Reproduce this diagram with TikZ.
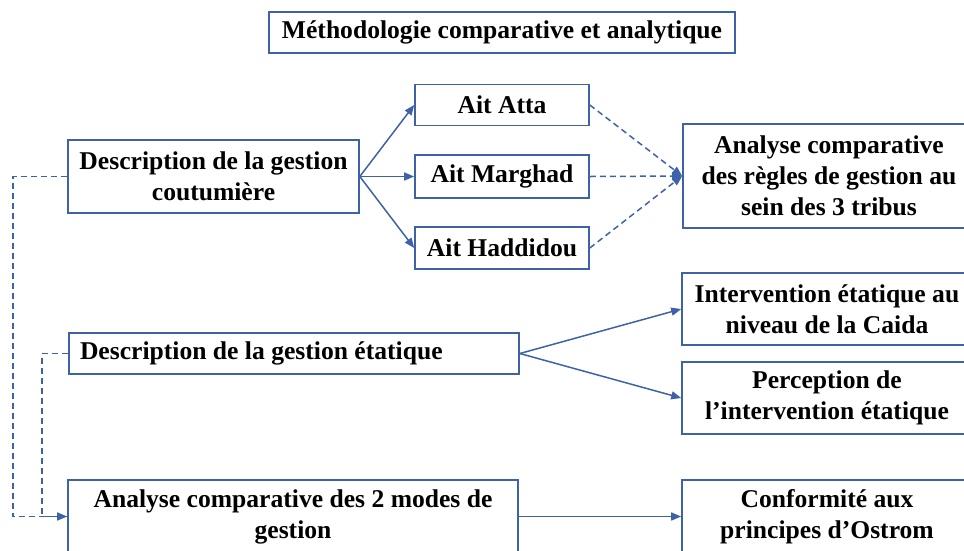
\documentclass[tikz,border=0pt]{standalone}
\usepackage{fontspec}
\setmainfont{Liberation Serif}
\usetikzlibrary{arrows.meta, calc}
\definecolor{boxblue}{RGB}{62,98,168}

\begin{document}
\begin{tikzpicture}[
    x=1pt, y=-1pt,
    stepbox/.style={rectangle, draw=boxblue, line width=1.6pt, fill=white, align=center,
      inner sep=1pt, font=\fontsize{25.6}{31}\selectfont\bfseries},
    arrow/.style={-{Triangle[length=10pt, width=8pt]}, draw=boxblue, line width=1.5pt},
    dasharrow/.style={arrow, dash pattern=on 6pt off 4pt},
    dashline/.style={draw=boxblue, line width=1.5pt, dash pattern=on 6pt off 4pt}
  ]
  % page frame, the reference is cut at the right and bottom
  \path[use as bounding box] (0,0) rectangle (964,550);
  \clip (0,0) rectangle (964,550);

  \node[stepbox, minimum width=466, minimum height=41] (title) at (502, 32.5)
    {Méthodologie comparative et analytique};

  % customary management
  \node[stepbox, minimum width=291, minimum height=73] (coutu) at (213.5, 176.5)
    {Description de la gestion\\coutumière};
  \node[stepbox, minimum width=174, minimum height=41] (atta) at (502, 105) {Ait Atta};
  \node[stepbox, minimum width=174, minimum height=43] (marghad) at (502, 176.5) {Ait Marghad};
  \node[stepbox, minimum width=174, minimum height=42] (haddidou) at (502, 248) {Ait Haddidou};
  \node[stepbox, minimum width=292, minimum height=104] (analyse) at (829, 176)
    {Analyse comparative\\des règles de gestion au\\sein des 3 tribus};

  % state management
  \node[stepbox, minimum width=450, minimum height=41, text width=428, align=flush left]
    (etatique) at (294, 353.5) {Description de la gestion étatique};
  \node[stepbox, minimum width=290, minimum height=72] (intervention) at (827, 309)
    {Intervention étatique au\\niveau de la Caida};
  \node[stepbox, minimum width=290, minimum height=72] (perception) at (827, 398)
    {Perception de\\l’intervention étatique};

  % comparison of both modes
  \node[stepbox, minimum width=450, minimum height=73] (modes) at (293, 516.5)
    {Analyse comparative des 2 modes de\\gestion};
  \node[stepbox, minimum width=290, minimum height=73] (ostrom) at (827, 516.5)
    {Conformité aux\\principes d’Ostrom};

  \draw[arrow] (coutu.east) -- (atta.west);
  \draw[arrow] (coutu.east) -- (marghad.west);
  \draw[arrow] (coutu.east) -- (haddidou.west);

  \draw[dasharrow] (atta.east) -- (analyse.west);
  \draw[dasharrow] (marghad.east) -- (analyse.west);
  \draw[dasharrow] (haddidou.east) -- (analyse.west);

  \draw[arrow] (etatique.east) -- (intervention.west);
  \draw[arrow] (etatique.east) -- (perception.west);

  \draw[arrow] (modes.east) -- (ostrom.west);

  % dashed feedback on the left
  \draw[dashline] (etatique.west) -- ++(-26,0) |- (modes.west);
  \draw[dasharrow] (coutu.west) -- ++(-54,0) |- (modes.west);

\end{tikzpicture}
\end{document}
